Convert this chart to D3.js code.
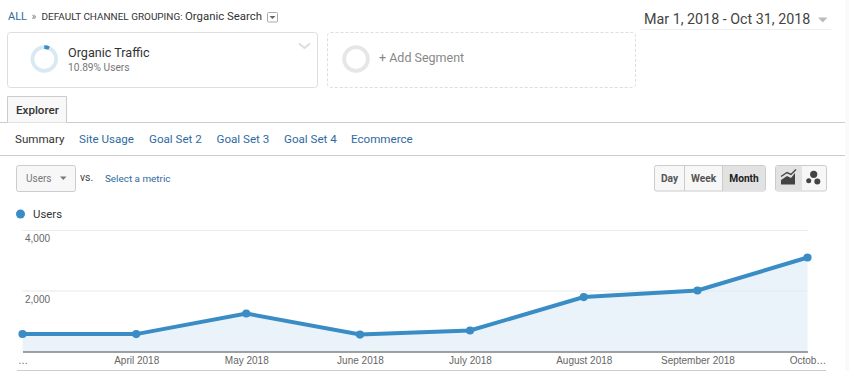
<!DOCTYPE html>
<html>
<head>
<meta charset="utf-8">
<script src="https://cdn.jsdelivr.net/npm/d3@7"></script>
<style>
html, body { margin: 0; padding: 0; background: #fff; overflow: hidden; }
svg { display: block; }
text { font-family: Roboto, "Open Sans", sans-serif; }
.tick text { font-family: "Liberation Sans", Arial, sans-serif; }
</style>
</head>
<body>
<svg id="chart" width="849" height="371"></svg>
<script>
// values
const months = ["2018-03-01", "2018-04-01", "2018-05-01", "2018-06-01", "2018-07-01", "2018-08-01", "2018-09-01", "2018-10-01"];
const users = [578, 575, 1256, 560, 694, 1800, 2016, 3107];
const tickLabels = ["…", "April 2018", "May 2018", "June 2018", "July 2018", "August 2018", "September 2018", "Octob…"];
const yTicks = [2000, 4000];
const tabs = ["Summary", "Site Usage", "Goal Set 2", "Goal Set 3", "Goal Set 4", "Ecommerce"];
const tabX = [15, 79, 149, 216.5, 284, 351];
const periods = ["Day", "Week", "Month"];

const blue = "#3a8cc5", linkBlue = "#2f6a9f";
const svg = d3.select("#chart");
const parse = d3.utcParse("%Y-%m-%d");
const dates = months.map(parse);

const x = d3.scaleUtc().domain(d3.extent(dates)).range([22.5, 807.5]);
const y = d3.scaleLinear().domain([0, 4000]).range([351.5, 230.5]);

// page edges
svg.append("rect").attr("x", 845).attr("width", 4).attr("height", 371).attr("fill", "#fafafa");

function label(txt, px, py, size, fill, weight) {
    return svg.append("text").attr("x", px).attr("y", py).text(txt)
        .style("font-size", size + "px").style("fill", fill).style("font-weight", weight || 400);
}
function hline(x1, x2, py, stroke) {
    svg.append("line").attr("x1", x1).attr("x2", x2).attr("y1", py).attr("y2", py).attr("stroke", stroke);
}
function box(px, py, w, h, r, fill, stroke) {
    return svg.append("rect").attr("x", px).attr("y", py).attr("width", w).attr("height", h)
        .attr("rx", r).attr("fill", fill).attr("stroke", stroke);
}

// breadcrumb
label("ALL", 8, 20, 11, linkBlue);
label("»", 31.5, 20, 10, "#777");
label("DEFAULT CHANNEL GROUPING:", 41.5, 20, 9.95, "#333");
label("Organic Search", 185, 20, 11.4, "#333");
box(267.5, 12.5, 10, 9.5, 1, "#fff", "#aaa");
svg.append("path").attr("d", "M269.5,16h6l-3,3z").attr("fill", "#666");

// date range
label("Mar 1, 2018 - Oct 31, 2018", 644, 24, 14.3, "#444");
svg.append("path").attr("d", "M818,17.5h9.5l-4.7,5z").attr("fill", "#bbb");
hline(641, 831, 29.5, "#eee");

// segments
box(7.5, 32.5, 310, 55, 3, "#fff", "#ddd");
box(327.5, 32.5, 308, 55, 3, "#fff", "#ddd").attr("stroke-dasharray", "3,2");
const arc = d3.arc().innerRadius(10).outerRadius(13.7);
const ring = svg.append("g").attr("transform", "translate(44.3,59)");
ring.append("path").attr("d", arc({ startAngle: 0, endAngle: 2 * Math.PI })).attr("fill", "#d9e9f4");
ring.append("path").attr("d", arc({ startAngle: 0, endAngle: 0.42 })).attr("fill", blue);
svg.append("g").attr("transform", "translate(356,59)")
    .append("path").attr("d", arc({ startAngle: 0, endAngle: 2 * Math.PI })).attr("fill", "#e6e6e6");
label("Organic Traffic", 68, 57, 12.6, "#333");
label("10.89% Users", 68, 71, 10.2, "#777");
svg.append("path").attr("d", "M299,43.5l5.5,4.5l5.5,-4.5").attr("fill", "none").attr("stroke", "#ddd").attr("stroke-width", 2);
label("+ Add Segment", 379, 62, 12.5, "#888");

// explorer tab
hline(0, 845, 122.5, "#ccc");
svg.append("path").attr("d", "M7.5,122.5V96.5H66.5V122.5").attr("fill", "#f8f8f8").attr("stroke", "#ccc");
label("Explorer", 16, 114, 11.6, "#333", 500);

tabs.forEach((t, i) => label(t, tabX[i], 143, 11.6, i === 0 ? "#333" : linkBlue));
hline(0, 845, 155.5, "#ccc");

// metric selector
box(16.5, 165.5, 59, 26, 2, "#f7f7f7", "#ccc");
label("Users", 26, 182, 10, "#777");
svg.append("path").attr("d", "M60,176.5h6.5l-3.2,3.5z").attr("fill", "#777");
label("vs.", 80, 181, 10.5, "#444");
label("Select a metric", 105, 182, 9.9, linkBlue);

// period buttons
box(654.5, 165.5, 111, 25.5, 2, "#f7f7f7", "#ccc");
svg.append("rect").attr("x", 723).attr("y", 166).attr("width", 42).attr("height", 25).attr("fill", "#e2e2e2");
[684.5, 722.5].forEach(px => svg.append("line").attr("x1", px).attr("x2", px).attr("y1", 166).attr("y2", 191).attr("stroke", "#ccc"));
const periodMid = [669.5, 703.5, 744];
periods.forEach((p, i) => label(p, periodMid[i], 182, 10.2, i === 2 ? "#222" : "#555", 700).attr("text-anchor", "middle"));

// chart type buttons
box(775.5, 165.5, 51, 25.5, 2, "#f7f7f7", "#ccc");
svg.append("rect").attr("x", 776).attr("y", 166).attr("width", 26).attr("height", 25).attr("fill", "#e2e2e2");
svg.append("path").attr("d", "M781,180l6,-4l4,2l4,-5v11.5h-14z").attr("fill", "#444");
svg.append("path").attr("d", "M781,176.5l6,-4l4,2l5,-5").attr("fill", "none").attr("stroke", "#444").attr("stroke-width", 1.4);
[[813.7, 174.3, 3.6], [808.7, 180.7, 2.5], [817.3, 181.5, 3]].forEach(c =>
    svg.append("circle").attr("cx", c[0]).attr("cy", c[1]).attr("r", c[2]).attr("fill", "#444"));

// legend
svg.append("circle").attr("cx", 20.5).attr("cy", 214).attr("r", 4.5).attr("fill", blue);
label("Users", 33, 218, 11.4, "#333");

// grid
svg.append("g").selectAll("line").data(yTicks).enter().append("line")
    .attr("x1", x.range()[0]).attr("x2", x.range()[1])
    .attr("y1", d => y(d)).attr("y2", d => y(d))
    .attr("stroke", "#f2f2f2");

// area + line
const series = dates.map((d, i) => ({ date: d, value: users[i] }));
svg.append("path").datum(series)
    .attr("fill", "#eaf3fa")
    .attr("d", d3.area().x(d => x(d.date)).y0(y(0)).y1(d => y(d.value)));

svg.append("g").selectAll("line").data(yTicks).enter().append("line")
    .attr("x1", x.range()[0]).attr("x2", x.range()[1])
    .attr("y1", d => y(d)).attr("y2", d => y(d))
    .attr("stroke", "#333").attr("stroke-opacity", 0.04);

svg.append("path").datum(series)
    .attr("fill", "none").attr("stroke", blue).attr("stroke-width", 4)
    .attr("d", d3.line().x(d => x(d.date)).y(d => y(d.value)));

svg.append("g").selectAll("circle").data(series).enter().append("circle")
    .attr("cx", d => x(d.date)).attr("cy", d => y(d.value)).attr("r", 4.1).attr("fill", blue);

// y labels
const yAxis = svg.append("g").attr("transform", "translate(25,0)")
    .call(d3.axisRight(y).tickValues(yTicks).tickSize(0).tickPadding(0).tickFormat(d3.format(",")));
yAxis.select(".domain").remove();
yAxis.selectAll("text").attr("dy", "1em").attr("y", 1).style("font-size", "10px").style("fill", "#666");

// x axis
const xAxis = svg.append("g").attr("transform", "translate(0,351.5)")
    .call(d3.axisBottom(x).tickValues(dates).tickSize(0).tickPadding(5)
        .tickFormat((d, i) => tickLabels[i]));
xAxis.select(".domain").attr("stroke", "#444");
xAxis.selectAll("text").style("font-size", "10px").style("fill", "#666");

hline(17, 826, 370.5, "#ccc");
</script>
</body>
</html>
